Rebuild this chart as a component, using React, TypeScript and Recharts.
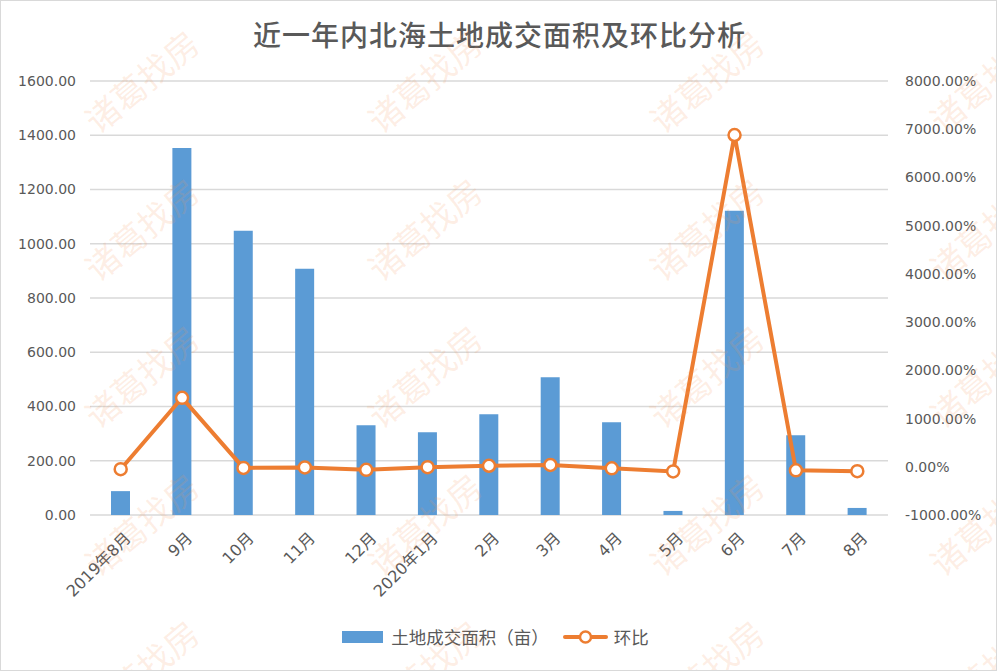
import React from 'react';
import { ComposedChart, Bar, Line, XAxis, YAxis, CartesianGrid, Legend } from 'recharts';

// categories and series
const months = ['2019年8月', '9月', '10月', '11月', '12月', '2020年1月', '2月', '3月', '4月', '5月', '6月', '7月', '8月'];
const landArea = [88, 1353, 1048, 908, 331, 305, 371, 508, 342, 15, 1122, 294, 26];
const momRate = [-50, 1430, -23, -13, -63, -8, 21, 37, -33, -96, 6880, -74, -91];

const leftTicks = [0, 200, 400, 600, 800, 1000, 1200, 1400, 1600];
const rightTicks = [-1000, 0, 1000, 2000, 3000, 4000, 5000, 6000, 7000, 8000];

const chartData = months.map((m, i) => ({ month: m, area: landArea[i], rate: momRate[i] }));

const watermarkRows = [77, 225, 372, 520, 667];
const watermarkCols = [140, 423, 705, 985];

const FONT = '"DejaVu Sans", "Noto Sans CJK SC", sans-serif';
const CJK = '"Noto Sans CJK SC", "Noto Sans", sans-serif';
const BLUE = '#5B9BD5';
const ORANGE = '#ED7D31';

const MonthTick = (props: any) => {
  const { x, y, payload } = props;
  return (
    <g transform={`translate(${x + 7},${y + 12})`}>
      <text transform="rotate(-45)" textAnchor="end" dy={6} fill="#595959" fontSize={16} fontFamily={FONT}>
        {payload.value}
      </text>
    </g>
  );
};

const LegendContent = () => (
  <div style={{ display: 'flex', justifyContent: 'center', alignItems: 'center', fontFamily: CJK, fontSize: 17.5, color: '#595959', paddingLeft: 4 }}>
    <svg width={41} height={12} style={{ marginRight: 8 }}>
      <rect x={0} y={0} width={41} height={12} fill={BLUE} />
    </svg>
    <span style={{ marginRight: 14 }}>土地成交面积（亩）</span>
    <svg width={45} height={16} style={{ marginRight: 6 }}>
      <line x1={2} y1={8} x2={43} y2={8} stroke={ORANGE} strokeWidth={4} strokeLinecap="round" />
      <circle cx={22.5} cy={8} r={5.5} fill="#fff" stroke={ORANGE} strokeWidth={2.5} />
    </svg>
    <span>环比</span>
  </div>
);

export default function App() {
  return (
    <div style={{ position: 'absolute', left: 0, top: 0, width: 997, height: 671, background: '#fff', boxSizing: 'border-box', border: '1px solid #d9d9d9', overflow: 'hidden' }}>
      <div style={{ position: 'absolute', left: 0, top: 13, width: 997, textAlign: 'center', fontFamily: CJK, fontSize: 28, fontWeight: 500, color: '#595959', letterSpacing: 1 }}>
        近一年内北海土地成交面积及环比分析
      </div>
      <div style={{ position: 'absolute', left: -1, top: -1 }}>
        <ComposedChart width={997} height={671} data={chartData} margin={{ top: 81, right: 20, left: 10, bottom: 31 }}>
          <CartesianGrid vertical={false} stroke="#d9d9d9" strokeWidth={1.5} yAxisId="left" />
          <XAxis dataKey="month" axisLine={false} tickLine={false} interval={0} height={100} tick={<MonthTick />} />
          <YAxis
            yAxisId="left"
            width={80}
            domain={[0, 1600]}
            ticks={leftTicks}
            axisLine={false}
            tickLine={false}
            tickMargin={8}
            tickFormatter={(v: number) => v.toFixed(2)}
            tick={{ fill: '#595959', fontSize: 14, fontFamily: FONT }}
          />
          <YAxis
            yAxisId="right"
            orientation="right"
            width={89}
            domain={[-1000, 8000]}
            ticks={rightTicks}
            axisLine={false}
            tickLine={false}
            tickFormatter={(v: number) => `${v.toFixed(2)}%`}
            tick={{ fill: '#595959', fontSize: 14, fontFamily: FONT, textAnchor: 'start' }}
            tickMargin={11}
          />
          <Bar yAxisId="left" dataKey="area" name="土地成交面积（亩）" fill={BLUE} barSize={19} isAnimationActive={false} />
          <Line
            yAxisId="right"
            dataKey="rate"
            name="环比"
            stroke={ORANGE}
            strokeWidth={4}
            dot={{ r: 6, fill: '#fff', stroke: ORANGE, strokeWidth: 2.5 }}
            activeDot={false}
            isAnimationActive={false}
          />
          <Legend verticalAlign="bottom" content={<LegendContent />} wrapperStyle={{ bottom: 22 }} />
        </ComposedChart>
      </div>
      <div style={{ position: 'absolute', inset: 0, pointerEvents: 'none' }}>
        {watermarkRows.map((ry) =>
          watermarkCols.map((cx) => (
            <div
              key={`${ry}-${cx}`}
              style={{
                position: 'absolute',
                left: cx - 80,
                top: ry - 22,
                width: 160,
                textAlign: 'center',
                transform: 'rotate(-40deg)',
                fontFamily: CJK,
                fontSize: 34,
                color: 'rgba(247, 150, 90, 0.16)',
                whiteSpace: 'nowrap',
              }}
            >
              诸葛找房
            </div>
          ))
        )}
      </div>
    </div>
  );
}
